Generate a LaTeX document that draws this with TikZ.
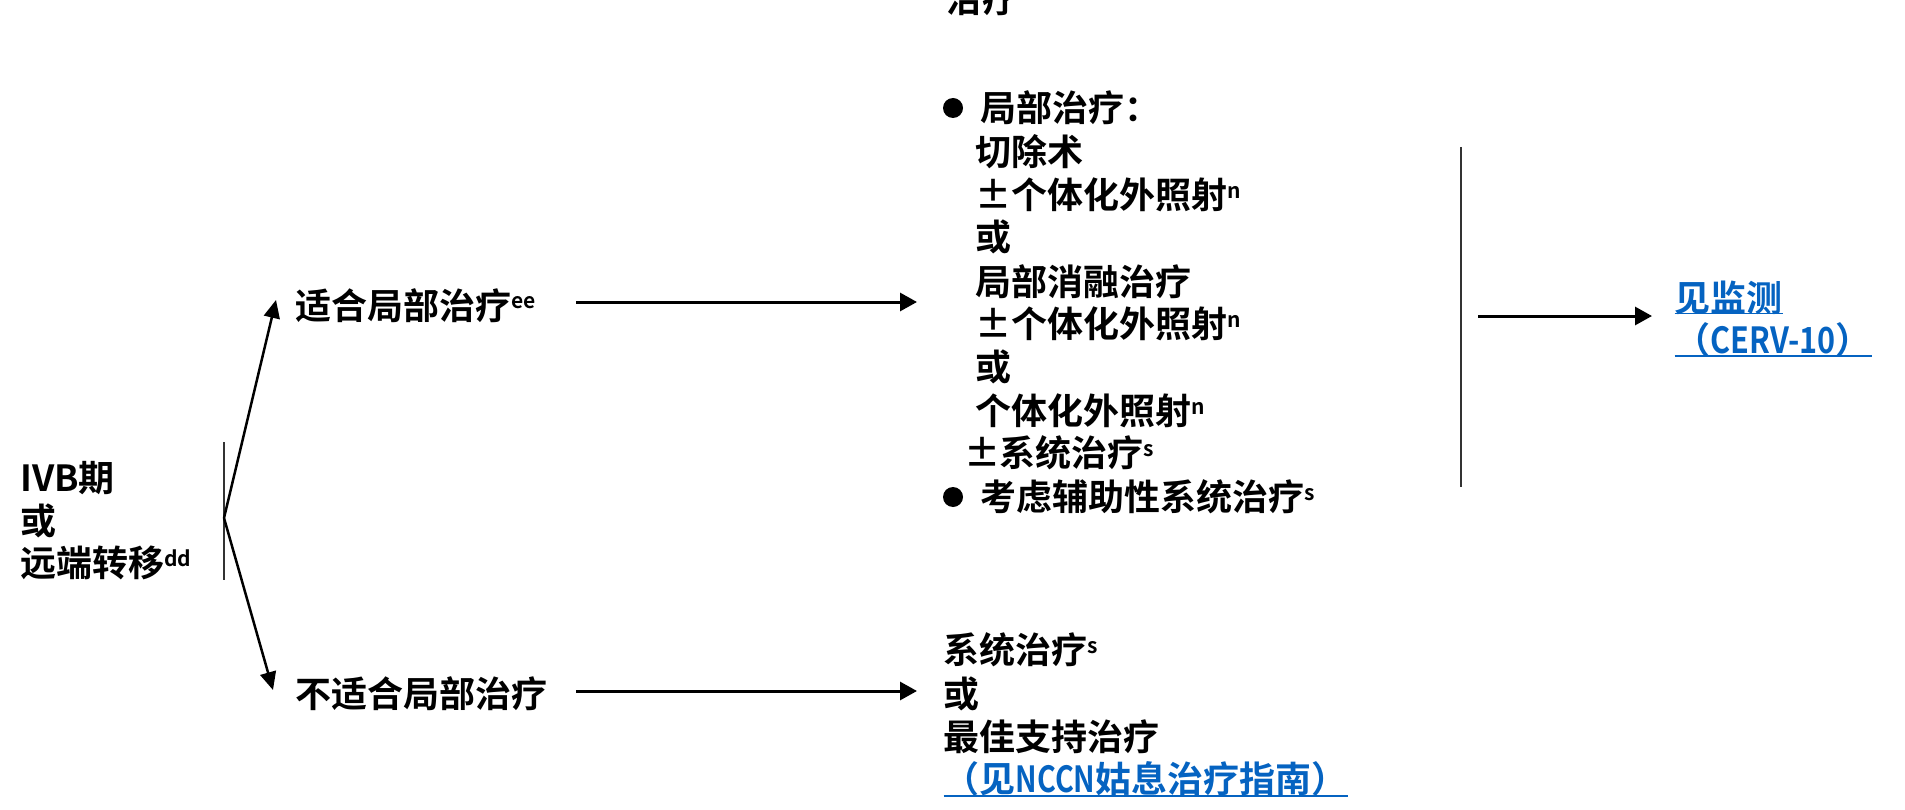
\documentclass[tikz,border=0pt]{standalone}
\usepackage{fontspec}
\usepackage{graphicx}
\setmainfont{Noto Sans CJK SC}[BoldFont={Noto Sans CJK SC Bold}]
\usetikzlibrary{arrows.meta}
\definecolor{linkblue}{HTML}{0563C1}
% footnote-letter superscripts, a fixed-width plus-minus sign, condensed Latin
\newcommand\supx[1]{\raisebox{10pt}{\fontsize{21pt}{21pt}\selectfont #1}}
\newcommand\pmbox{\makebox[35pt][c]{±}}
\newcommand\narrow[2]{\scalebox{#1}[1]{#2}}

\begin{document}
\begin{tikzpicture}[x=1pt,y=-1pt,
  txt/.style={anchor=base west, inner sep=0pt, font=\fontsize{36pt}{43pt}\selectfont\bfseries},
  linktxt/.style={txt, text=linkblue},
  uline/.style={draw=linkblue, line width=1.8pt},
  arr/.style={line width=3pt, -{Triangle[length=17pt,width=18pt]}},
  diag/.style={line width=2.5pt, -{Triangle[length=18pt,width=16pt]}},
  bar/.style={line width=1.3pt, draw=black!80},
  dot/.style={circle, fill=black, inner sep=0pt, minimum size=20pt}]
\useasboundingbox (0,0) rectangle (1905,810);

% starting condition
\node[txt] (s1) at (20,491) {IVB期};
\node[txt] (s2) at (20,534) {或};
\node[txt] (s3) at (20,576) {远端转移\supx{dd}};

% branch bracket and the two branches
\coordinate (apex) at (224,518);
\coordinate (brtop) at (224,442);
\coordinate (brbot) at (224,580);
\draw[bar] (brtop) -- (brbot);
\coordinate (tipA) at (276,300);
\coordinate (tipB) at (273,690);
\draw[diag] (apex) -- (tipA);
\draw[diag] (apex) -- (tipB);

\node[txt] (h1) at (295.5,319) {适合局部治疗\supx{ee}};
\node[txt] (h2) at (295.5,707) {不适合局部治疗};

% treatment arrows
\coordinate (a1s) at (576,302);
\coordinate (a1e) at (917,302);
\coordinate (a2s) at (576,691);
\coordinate (a2e) at (917,691);
\draw[arr] (a1s) -- (a1e);
\draw[arr] (a2s) -- (a2e);

% tail of the preceding block
\node[txt] (prev) at (946,12.5) {治疗};

% local treatment options
\node[dot] (b1) at (953,108) {};
\node[txt] (t1) at (980,121.5) {局部治疗：};
\node[txt] (t2) at (975.5,166) {切除术};
\node[txt] (t3) at (976,209) {\pmbox 个体化外照射\supx{n}};
\node[txt] (t4) at (975.5,251) {或};
\node[txt] (t5) at (975.5,295) {局部消融治疗};
\node[txt] (t6) at (976,337) {\pmbox 个体化外照射\supx{n}};
\node[txt] (t7) at (975.5,380) {或};
\node[txt] (t8) at (975.5,424) {个体化外照射\supx{n}};
\node[txt] (t9) at (964.5,466) {\pmbox 系统治疗\supx{s}};
\node[dot] (b2) at (953,497) {};
\node[txt] (t10) at (980,510) {考虑辅助性系统治疗\supx{s}};

% follow-up bracket and link
\coordinate (rtop) at (1461,147);
\coordinate (rbot) at (1461,487);
\draw[bar] (rtop) -- (rbot);
\coordinate (a3s) at (1478,316);
\coordinate (a3e) at (1652,316);
\draw[arr] (a3s) -- (a3e);
\node[linktxt] (l1) at (1674.5,311) {见监测};
\node[linktxt] (l2) at (1674.5,353) {（\narrow{0.85}{CERV-10}）};
\draw[uline] ([yshift=-2.5pt]l1.base west) -- ([yshift=-2.5pt]l1.base east);
\draw[uline] ([yshift=-3pt]l2.base west) -- ([yshift=-3pt]l2.base east);

% systemic / supportive options
\node[txt] (u1) at (943.5,663) {系统治疗\supx{s}};
\node[txt] (u2) at (943.5,707) {或};
\node[txt] (u3) at (943.5,750) {最佳支持治疗};
\node[linktxt] (u4) at (943.5,792) {（见\narrow{0.8}{NCCN}姑息治疗指南）};
\draw[uline] ([yshift=-4pt]u4.base west) -- ([yshift=-4pt]u4.base east);
\end{tikzpicture}
\end{document}
